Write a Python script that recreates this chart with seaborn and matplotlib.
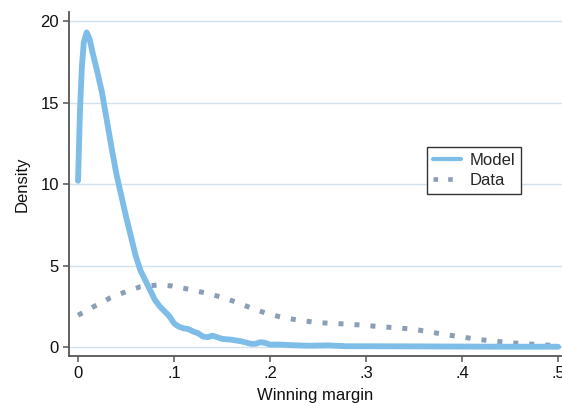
import matplotlib
matplotlib.use("Agg")
import matplotlib.pyplot as plt
import seaborn as sns
import pandas as pd

# Model density
model_x = [0.000, 0.002, 0.004, 0.006, 0.009, 0.012, 0.015, 0.020, 0.025, 0.030,
           0.035, 0.040, 0.045, 0.050, 0.055, 0.060, 0.065, 0.070, 0.075, 0.080,
           0.085, 0.090, 0.095, 0.100, 0.105, 0.110, 0.115, 0.120, 0.125, 0.130,
           0.135, 0.140, 0.145, 0.150, 0.160, 0.170, 0.180, 0.185, 0.190, 0.195,
           0.200, 0.210, 0.220, 0.240, 0.260, 0.280, 0.300, 0.350, 0.400, 0.450, 0.500]
model_y = [10.2, 14.5, 17.2, 18.7, 19.3, 18.9, 18.1, 16.9, 15.6, 13.9,
           12.2, 10.6, 9.3, 8.0, 6.8, 5.6, 4.7, 4.1, 3.5, 2.9,
           2.5, 2.2, 1.9, 1.45, 1.25, 1.15, 1.1, 0.95, 0.85, 0.65,
           0.6, 0.7, 0.6, 0.5, 0.45, 0.35, 0.2, 0.2, 0.3, 0.25,
           0.15, 0.15, 0.12, 0.08, 0.1, 0.05, 0.05, 0.04, 0.03, 0.02, 0.02]

# Data density
data_x = [0.000, 0.017, 0.033, 0.050, 0.065, 0.082, 0.098, 0.115, 0.134, 0.150,
          0.165, 0.180, 0.197, 0.214, 0.230, 0.249, 0.283, 0.315, 0.349, 0.384,
          0.419, 0.453, 0.488, 0.500]
data_y = [1.95, 2.5, 3.0, 3.4, 3.7, 3.8, 3.75, 3.55, 3.3, 3.05,
          2.75, 2.4, 2.05, 1.8, 1.65, 1.5, 1.4, 1.25, 1.1, 0.75,
          0.45, 0.25, 0.12, 0.1]

x_ticks = [0, 0.1, 0.2, 0.3, 0.4, 0.5]
x_tick_labels = ["0", ".1", ".2", ".3", ".4", ".5"]
y_ticks = [0, 5, 10, 15, 20]
series_names = ["Model", "Data"]

sns.set_theme(style="white")
plt.rcParams["font.family"] = ["Liberation Sans", "DejaVu Sans"]

fig = plt.figure(figsize=(5.62, 4.03), dpi=100)
ax = fig.add_axes([0.1228, 0.1166, 0.8772, 0.8534])

model_df = pd.DataFrame({"x": model_x, "y": model_y})
data_df = pd.DataFrame({"x": data_x, "y": data_y})

model_color = "#7dbde8"
data_color = "#8a9fb6"

sns.lineplot(data=data_df, x="x", y="y", ax=ax, color=data_color, lw=3.6,
             linestyle=(0, (1.0, 2.2)), dash_capstyle="butt", label=series_names[1])
sns.lineplot(data=model_df, x="x", y="y", ax=ax, color=model_color, lw=4.2,
             solid_capstyle="round", solid_joinstyle="round", label=series_names[0])

ax.set_xlim(-0.0094, 0.504)
ax.set_ylim(-0.55, 20.55)
ax.set_xticks(x_ticks)
ax.set_xticklabels(x_tick_labels)
ax.set_yticks(y_ticks)
ax.yaxis.grid(True, color="#d3e1ed", lw=1.0)
ax.xaxis.grid(False)
ax.set_axisbelow(True)

for s in ["top", "right"]:
    ax.spines[s].set_visible(False)
for s in ["left", "bottom"]:
    ax.spines[s].set_color("#555555")
    ax.spines[s].set_linewidth(1.3)

ax.tick_params(axis="both", which="major", direction="out", length=4.3, width=1.1,
               color="#555555", labelsize=12, labelcolor="#111111", pad=3.0,
               bottom=True, left=True)
ax.set_xlabel("Winning margin", fontsize=12, color="#111111", labelpad=5)
ax.set_ylabel("Density", fontsize=12, color="#111111", labelpad=8)

handles, labels = ax.get_legend_handles_labels()
order = [labels.index(n) for n in series_names]
leg = ax.legend([handles[i] for i in order], [labels[i] for i in order],
                loc="upper left", bbox_to_anchor=(0.726, 0.608), fontsize=12,
                frameon=True, fancybox=False, framealpha=1, edgecolor="#333333",
                handlelength=1.7, handletextpad=0.5, labelspacing=0.3,
                borderpad=0.35, borderaxespad=0)
leg.get_frame().set_linewidth(1.0)
leg_lines = leg.get_lines()
leg_lines[0].set_linewidth(3.0)
leg_lines[1].set_linewidth(3.3)

fig.savefig("out.png", dpi=100)
